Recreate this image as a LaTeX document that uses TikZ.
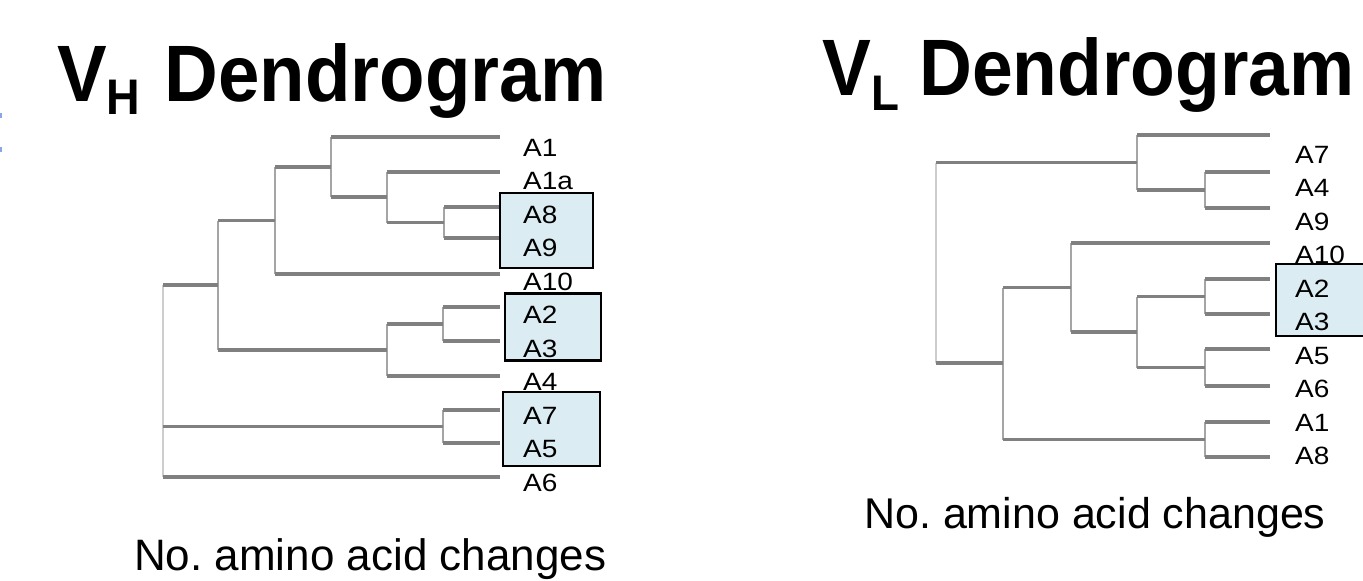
\documentclass[tikz,border=0pt]{standalone}
\usepackage{fontspec}
\setmainfont{Liberation Sans}
\usetikzlibrary{calc}
\definecolor{boxblue}{RGB}{219,236,242}
\definecolor{hgray}{RGB}{128,128,128}
\definecolor{vgray}{RGB}{165,165,165}
\definecolor{rgray}{RGB}{205,205,205}
\definecolor{markblue}{RGB}{140,165,230}
\newcommand\leaflab[1]{\scalebox{1.12}[1]{#1}}
\newcommand\ttlfont{\fontsize{80}{90}\selectfont\bfseries}
\newcommand\subfnt{\fontsize{50}{60}\selectfont}
\newcommand\branch[2]{\draw[hline] (#1 |- #2) -- (#2);}
\newcommand\vjoin[3]{\draw[vline] (#1 |- #2) -- (#1 |- #3);}
\tikzset{
  hline/.style={draw=hgray, line width=3.4pt},
  vline/.style={draw=vgray, line width=2.4pt},
  rline/.style={draw=rgray, line width=2.4pt},
  leaf/.style={inner sep=0pt, anchor=base west, font=\fontsize{25}{30}\selectfont},
  grpbox/.style={draw=black, line width=2.4pt, fill=boxblue, inner sep=0pt},
  ttl/.style={inner sep=0pt, anchor=base west, font=\ttlfont},
  axlab/.style={inner sep=0pt, anchor=base west},
}
\begin{document}
\begin{tikzpicture}[x=1pt,y=-1pt]
\useasboundingbox (0,0) rectangle (1363,581);
% edge marks
\fill[markblue] (0,113) rectangle (1.5,118);
\fill[markblue] (0,147) rectangle (1.5,152);

% titles
\node[ttl] (vhtitle) at (57,101) {\scalebox{0.93}[1]{V\raisebox{-13pt}{\subfnt H}\hspace{4pt} Dendrogram}};
\node[ttl] (vltitle) at (822,95) {\scalebox{0.915}[1]{V\raisebox{-15pt}{\subfnt L} Dendrogram}};

% ---------- VH tree ----------
\coordinate (hA1) at (500,137);
\coordinate (hA1a) at (500,172);
\coordinate (hA8) at (500,207);
\coordinate (hA9) at (500,238);
\coordinate (hA10) at (500,274);
\coordinate (hA2) at (500,307);
\coordinate (hA3) at (500,341);
\coordinate (hA4) at (500,376);
\coordinate (hA7) at (500,410);
\coordinate (hA5) at (500,443);
\coordinate (hA6) at (500,477);
\coordinate (h89) at (444,222.5);
\coordinate (h1a) at (387,197);
\coordinate (h11) at (331,167);
\coordinate (h10) at (275,220.5);
\coordinate (h23) at (443,324);
\coordinate (h234) at (387,350);
\coordinate (hup) at (218,285);
\coordinate (h75) at (443,426.5);
\coordinate (hroot) at (163,381);

\vjoin{h89}{hA8}{hA9} \branch{h89}{hA8} \branch{h89}{hA9}
\vjoin{h1a}{hA1a}{h89} \branch{h1a}{hA1a} \branch{h1a}{h89}
\vjoin{h11}{hA1}{h1a} \branch{h11}{hA1} \branch{h11}{h1a}
\vjoin{h10}{h11}{hA10} \branch{h10}{h11} \branch{h10}{hA10}
\vjoin{h23}{hA2}{hA3} \branch{h23}{hA2} \branch{h23}{hA3}
\vjoin{h234}{h23}{hA4} \branch{h234}{h23} \branch{h234}{hA4}
\vjoin{hup}{h10}{h234} \branch{hup}{h10} \branch{hup}{h234}
\vjoin{h75}{hA7}{hA5} \branch{h75}{hA7} \branch{h75}{hA5}
\draw[rline] (hroot |- hup) -- (hroot |- hA6);
\branch{hroot}{hup} \branch{hroot}{h75} \branch{hroot}{hA6}

% ---------- VL tree ----------
\coordinate (lA7) at (1270,135);
\coordinate (lA4) at (1270,172);
\coordinate (lA9) at (1270,208);
\coordinate (lA10) at (1270,243);
\coordinate (lA2) at (1270,279);
\coordinate (lA3) at (1270,314);
\coordinate (lA5) at (1270,349);
\coordinate (lA6) at (1270,386);
\coordinate (lA1) at (1270,422);
\coordinate (lA8) at (1270,457);
\coordinate (l49) at (1205,190);
\coordinate (l749) at (1137,162.5);
\coordinate (l23) at (1205,296.5);
\coordinate (l56) at (1205,367.5);
\coordinate (l2356) at (1137,332);
\coordinate (l10) at (1071,287.5);
\coordinate (l18) at (1205,439.5);
\coordinate (l1018) at (1003,363);
\coordinate (lroot) at (936,263);

\vjoin{l49}{lA4}{lA9} \branch{l49}{lA4} \branch{l49}{lA9}
\vjoin{l749}{lA7}{l49} \branch{l749}{lA7} \branch{l749}{l49}
\vjoin{l23}{lA2}{lA3} \branch{l23}{lA2} \branch{l23}{lA3}
\vjoin{l56}{lA5}{lA6} \branch{l56}{lA5} \branch{l56}{lA6}
\vjoin{l2356}{l23}{l56} \branch{l2356}{l23} \branch{l2356}{l56}
\vjoin{l10}{lA10}{l2356} \branch{l10}{lA10} \branch{l10}{l2356}
\vjoin{l18}{lA1}{lA8} \branch{l18}{lA1} \branch{l18}{lA8}
\vjoin{l1018}{l10}{l18} \branch{l1018}{l10} \branch{l1018}{l18}
\draw[rline] (lroot |- l749) -- (lroot |- l1018);
\branch{lroot}{l749} \branch{lroot}{l1018}

% labels outside boxes
\node[leaf] (vhlabA1) at (523,156) {\leaflab{A1}};
\node[leaf] (vhlabA1a) at (523,189.5) {\leaflab{A1a}};
\node[leaf] (vhlabA10) at (523,290) {\leaflab{A10}};
\node[leaf] (vhlabA4) at (523,390.5) {\leaflab{A4}};
\node[leaf] (vhlabA6) at (523,491) {\leaflab{A6}};
\node[leaf] (vllabA7) at (1295,163) {\leaflab{A7}};
\node[leaf] (vllabA4) at (1295,196.5) {\leaflab{A4}};
\node[leaf] (vllabA9) at (1295,230) {\leaflab{A9}};
\node[leaf] (vllabA10) at (1295,263.5) {\leaflab{A10}};
\node[leaf] (vllabA5) at (1295,364) {\leaflab{A5}};
\node[leaf] (vllabA6) at (1295,397.5) {\leaflab{A6}};
\node[leaf] (vllabA1) at (1295,431) {\leaflab{A1}};
\node[leaf] (vllabA8) at (1295,464.5) {\leaflab{A8}};

% group boxes
\node[grpbox, minimum width=93pt, minimum height=75pt] (hbox1) at (546.5,230.5) {};
\node[grpbox, minimum width=96pt, minimum height=67pt] (hbox2) at (553,327) {};
\node[grpbox, minimum width=97pt, minimum height=74pt] (hbox3) at (551.5,429) {};
\node[grpbox, minimum width=100pt, minimum height=72pt] (lbox1) at (1326,300) {};

% labels inside boxes
\node[leaf] (vhlabA8) at (523,223) {\leaflab{A8}};
\node[leaf] (vhlabA9) at (523,256.5) {\leaflab{A9}};
\node[leaf] (vhlabA2) at (523,323.5) {\leaflab{A2}};
\node[leaf] (vhlabA3) at (523,357) {\leaflab{A3}};
\node[leaf] (vhlabA7) at (523,424) {\leaflab{A7}};
\node[leaf] (vhlabA5) at (523,457.5) {\leaflab{A5}};
\node[leaf] (vllabA2) at (1295,297) {\leaflab{A2}};
\node[leaf] (vllabA3) at (1295,330.5) {\leaflab{A3}};

% axis captions
\node[axlab, font=\fontsize{44}{52}\selectfont] (vhaxis) at (134,570) {No.\ amino acid changes};
\node[axlab, font=\fontsize{43}{52}\selectfont] (vlaxis) at (864,528) {No.\ amino acid changes};
\end{tikzpicture}
\end{document}
